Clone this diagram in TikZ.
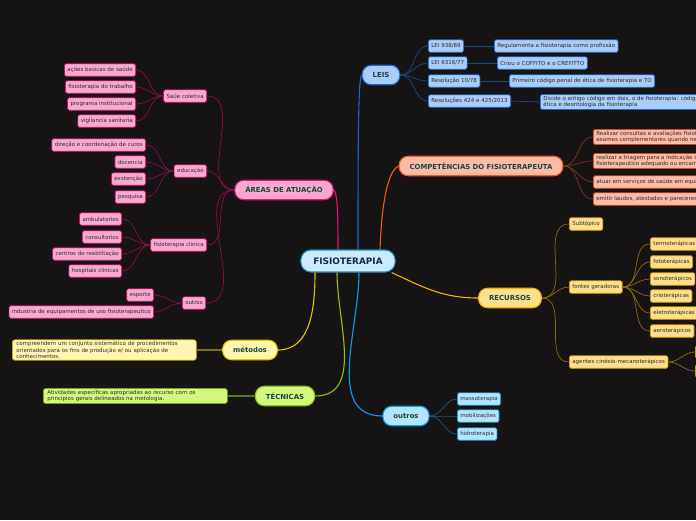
\documentclass[tikz,border=0pt]{standalone}
\usepackage{fontspec}
\setmainfont{DejaVu Sans}
\usetikzlibrary{positioning}
\definecolor{bgc}{HTML}{161415}
\definecolor{leaftxt}{HTML}{322A2E}
\definecolor{toptxt}{HTML}{16483C}
\definecolor{roottxt}{HTML}{0F2D52}
\definecolor{rootfill}{HTML}{C9EBFB}
\definecolor{rootline}{HTML}{2D86B8}
\definecolor{pkfill}{HTML}{F9A8D0}
\definecolor{pkline}{HTML}{E8127A}
\definecolor{pkdark}{HTML}{8A1046}
\definecolor{lsfill}{HTML}{A9CCF9}
\definecolor{lsline}{HTML}{1F66C8}
\definecolor{lsdark}{HTML}{1A4A86}
\definecolor{cpfill}{HTML}{FBBBA6}
\definecolor{cpline}{HTML}{F05A22}
\definecolor{cpdark}{HTML}{84341A}
\definecolor{rcfill}{HTML}{FDDF8C}
\definecolor{rcline}{HTML}{F2B400}
\definecolor{rcdark}{HTML}{8C6C12}
\definecolor{otfill}{HTML}{B3E5FC}
\definecolor{otline}{HTML}{0AA0E6}
\definecolor{otdark}{HTML}{1A5A80}
\definecolor{tcfill}{HTML}{D4F77E}
\definecolor{tcline}{HTML}{8FC21A}
\definecolor{tcdark}{HTML}{5A7A12}
\definecolor{mtfill}{HTML}{FFF7B0}
\definecolor{mtline}{HTML}{E0C800}
\definecolor{mtdark}{HTML}{76701E}
\tikzset{
  leaf/.style={draw,rounded corners=1.5pt,line width=0.7pt,text=leaftxt,
    font=\fontsize{5.5}{6.5}\selectfont,inner xsep=3pt,inner ysep=1.5pt,minimum height=12.5pt},
  topic/.style={draw,rounded corners=9pt,line width=1.1pt,text=toptxt,
    font=\bfseries\fontsize{6.9}{8}\selectfont,inner xsep=10.5pt,minimum height=19.5pt},
  pkleaf/.style={leaf,fill=pkfill,draw=pkline!85!black},
  lsleaf/.style={leaf,fill=lsfill,draw=lsline},
  cpleaf/.style={leaf,fill=cpfill,draw=cpline!85!black,align=left,anchor=west},
  rcleaf/.style={leaf,fill=rcfill,draw=rcline!85!black,anchor=west},
  otleaf/.style={leaf,fill=otfill,draw=otline!85!black,anchor=west},
  descbox/.style={leaf,align=left,anchor=west,text width=176pt,inner xsep=4pt,rounded corners=2.5pt},
  branch/.style={line width=1.1pt},
  twig/.style={line width=0.7pt},
}

\begin{document}
\begin{tikzpicture}[x=1pt,y=-1pt]
\fill[bgc] (0,0) rectangle (696,520);
\useasboundingbox (0,0) rectangle (696,520);
\clip (0,0) rectangle (696,520);

% centre
\node[draw=rootline,fill=rootfill,text=roottxt,line width=1.1pt,rounded corners=10pt,
  font=\bfseries\fontsize{8.9}{10}\selectfont,inner xsep=12.5pt,minimum height=22pt]
  (root) at (348,261) {FISIOTERAPIA};

% main topics
\node[topic,fill=pkfill,draw=pkline] (areas) at (284,190) {ÁREAS DE ATUAÇÃO};
\node[topic,fill=lsfill,draw=lsline] (leis) at (381,75) {LEIS};
\node[topic,fill=cpfill,draw=cpline] (comp) at (481,166) {COMPETÊNCIAS DO FISIOTERAPEUTA};
\node[topic,fill=rcfill,draw=rcline] (recursos) at (510,298) {RECURSOS};
\node[topic,fill=otfill,draw=otline] (outros) at (406,416) {outros};
\node[topic,fill=tcfill,draw=tcline] (tecnicas) at (285,396) {TÉCNICAS};
\node[topic,fill=mtfill,draw=mtline] (metodos) at (250,350) {métodos};

\draw[branch,pkline] ([xshift=-10pt]root.north) .. controls +(0,-45) and +(3,3) .. (areas.east);
\draw[branch,lsline] ([xshift=10pt]root.north) .. controls +(0,-130) and +(-3,6) .. (leis.west);
\draw[branch,cpline] ([xshift=32pt]root.north) .. controls +(2,-55) and +(-9,4) .. (comp.west);
\draw[branch,rcline] ([xshift=-4pt]root.south east) to[out=-25,in=180] (recursos.west);
\draw[branch,otline] ([xshift=11pt]root.south) to[out=-90,in=180] (outros.west);
\draw[branch,tcline] ([xshift=-11pt]root.south) to[out=-90,in=0] (tecnicas.east);
\draw[branch,mtline] ([xshift=-33pt]root.south) to[out=-90,in=0] (metodos.east);

% areas de atuacao
\node[pkleaf,anchor=east] (saude) at (207,96) {Saúe coletiva};
\node[pkleaf,anchor=east] (educ) at (207,171) {educação};
\node[pkleaf,anchor=east] (clin) at (207,245) {fisioterapia clinica};
\node[pkleaf,anchor=east] (aout) at (206,303) {outros};
\node[pkleaf,anchor=east] (sa1) at (136,70) {ações basicas de saúde};
\node[pkleaf,anchor=east] (sa2) at (136,87) {fisioterapia do trabalho};
\node[pkleaf,anchor=east] (sa3) at (136,104) {programa institucional};
\node[pkleaf,anchor=east] (sa4) at (136,121) {vigilancia sanitaria};
\node[pkleaf,anchor=east] (ed1) at (146,145) {direção e coordenação de curos};
\node[pkleaf,anchor=east] (ed2) at (146,162) {docencia};
\node[pkleaf,anchor=east] (ed3) at (146,179) {exstenção};
\node[pkleaf,anchor=east] (ed4) at (146,197) {pesquisa};
\node[pkleaf,anchor=east] (cl1) at (122,219) {ambulatorios};
\node[pkleaf,anchor=east] (cl2) at (122,237) {consultorios};
\node[pkleaf,anchor=east] (cl3) at (122,254) {centros de reabilitação};
\node[pkleaf,anchor=east] (cl4) at (122,271) {hospitais clinicas};
\node[pkleaf,anchor=east] (ou1) at (154,295) {esporte};
\node[pkleaf,anchor=east] (ou2) at (154,312) {industria de equipamentos de uso fisioterapeutico};

\foreach \c in {saude,educ,clin,aout}
  \draw[twig,pkdark] (areas.west) to[out=180,in=0] (\c.east);
\foreach \c in {sa1,sa2,sa3,sa4}
  \draw[twig,pkdark] (saude.west) to[out=180,in=0] (\c.east);
\foreach \c in {ed1,ed2,ed3,ed4}
  \draw[twig,pkdark] (educ.west) to[out=180,in=0] (\c.east);
\foreach \c in {cl1,cl2,cl3,cl4}
  \draw[twig,pkdark] (clin.west) to[out=180,in=0] (\c.east);
\foreach \c in {ou1,ou2}
  \draw[twig,pkdark] (aout.west) to[out=180,in=0] (\c.east);

% leis
\node[lsleaf,anchor=west] (l1) at (428,46) {LEI 938/69};
\node[lsleaf,anchor=west] (l2) at (428,63) {LEI 6316/77};
\node[lsleaf,anchor=west] (l3) at (428,81) {Resolução 10/78};
\node[lsleaf,anchor=west] (l4) at (428,101) {Resoluções 424 e 425/2013};
\node[lsleaf,anchor=west] (d1) at (494,46) {Regulamenta a fisioterapia como profissão};
\node[lsleaf,anchor=west] (d2) at (497,63) {Criou o COFFITO e o CREFITTO};
\node[lsleaf,anchor=west] (d3) at (509,81) {Primeiro código penal de ética de fisioterapia e TO};
\node[lsleaf,anchor=west,align=left] (d4) at (540,102)
  {Divide o antigo código em dois, o de fisioterapia: código de\\ética e deontologia da fisioterapia};
\foreach \c/\d in {l1/d1,l2/d2,l3/d3,l4/d4}{
  \draw[twig,lsdark] (leis.east) to[out=0,in=180] (\c.west);
  \draw[twig,lsdark] (\c.east) -- (\d.west);
}

% competencias
\node[cpleaf] (c1) at (593,137) {Realizar consultas e avaliações fisioterapêuticas, solicitar\\exames complementares quando necessário};
\node[cpleaf] (c2) at (593,161) {realizar a triagem para a indicação do tratamento\\fisioterapeutico adequado ou encaminhamento};
\node[cpleaf] (c3) at (593,182) {atuar em serviços de saúde em equipe multiprofissional};
\node[cpleaf] (c4) at (593,199) {emitir laudos, atestados e pareceres};
\foreach \c in {c1,c2,c3,c4}
  \draw[twig,cpdark] (comp.east) to[out=0,in=180] (\c.west);

% recursos
\node[rcleaf] (sub) at (569,224) {Subtópico};
\node[rcleaf] (fontes) at (569,287) {fontes geradoras};
\node[rcleaf] (agentes) at (569,362) {agentes cinésio-mecanoterápicos};
\node[rcleaf] (f1) at (650,244) {termoterápicas};
\node[rcleaf] (f2) at (650,262) {fototerápicas};
\node[rcleaf] (f3) at (650,279) {sonoterápicos};
\node[rcleaf] (f4) at (650,296) {crioterápicas};
\node[rcleaf] (f5) at (650,313) {eletroterápicas};
\node[rcleaf] (f6) at (650,331) {aeroterápicos};
\node[rcleaf,minimum width=40pt] (a1) at (695,352) {};
\node[rcleaf,minimum width=40pt] (a2) at (695,371) {};
\foreach \c in {sub,fontes,agentes}
  \draw[twig,rcdark] (recursos.east) to[out=0,in=180] (\c.west);
\foreach \c in {f1,f2,f3,f4,f5,f6}
  \draw[twig,rcdark] (fontes.east) to[out=0,in=180] (\c.west);
\foreach \c in {a1,a2}
  \draw[twig,rcdark] (agentes.east) to[out=0,in=180] (\c.west);

% outros
\node[otleaf] (o1) at (457,399) {massoterapia};
\node[otleaf] (o2) at (457,416) {mobilizações};
\node[otleaf] (o3) at (457,434) {hidroterapia};
\foreach \c in {o1,o2,o3}
  \draw[twig,otdark] (outros.east) to[out=0,in=180] (\c.west);

% metodos, tecnicas
\node[descbox,fill=mtfill,draw=mtline!85!black] (mdesc) at (12,350)
  {compreendem um conjunto sistemático de procedimentos\\orientados para os fins de produção e/ ou aplicação de\\conhecimentos.};
\node[descbox,fill=tcfill,draw=tcline!85!black] (tdesc) at (43,396)
  {Atividades específicas apropriadas ao recurso com os\\princípios gerais delineados na metologia.};
\draw[branch,mtdark] (metodos.west) -- (mdesc.east);
\draw[branch,tcdark] (tecnicas.west) -- (tdesc.east);

\end{tikzpicture}
\end{document}
